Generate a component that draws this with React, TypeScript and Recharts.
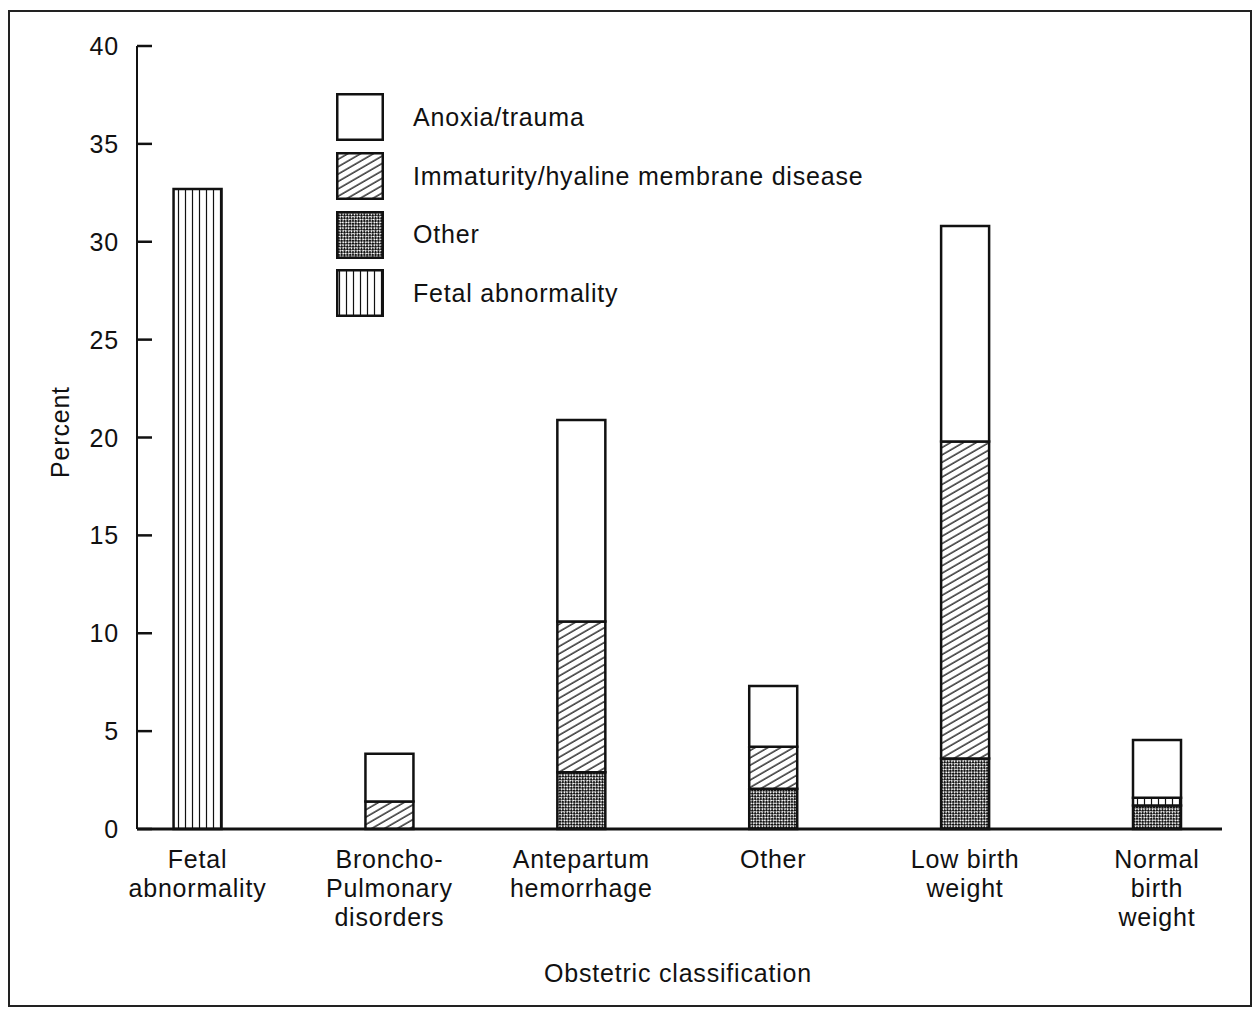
import React from 'react';
import { BarChart, Bar, XAxis, YAxis, Legend, Customized } from 'recharts';

const categories: string[][] = [
  ['Fetal', 'abnormality'],
  ['Broncho-', 'Pulmonary', 'disorders'],
  ['Antepartum', 'hemorrhage'],
  ['Other'],
  ['Low birth', 'weight'],
  ['Normal', 'birth', 'weight'],
];
const otherValues = [0, 0, 2.9, 2.05, 3.6, 1.2];
const fetalValues = [32.7, 0, 0, 0, 0, 0.4];
const immaturityValues = [0, 1.4, 7.7, 2.15, 16.2, 0];
const anoxiaValues = [0, 2.45, 10.3, 3.1, 11.0, 2.95];
const yTicks = [0, 5, 10, 15, 20, 25, 30, 35, 40];

const legendNames = [
  'Anoxia/trauma',
  'Immaturity/hyaline membrane disease',
  'Other',
  'Fetal abnormality',
];
const legendFills = ['#ffffff', 'url(#hatch)', 'url(#checker)', 'url(#vstripe)'];

const data = categories.map((c, i) => ({
  idx: i,
  other: otherValues[i],
  fetal: fetalValues[i],
  immaturity: immaturityValues[i],
  anoxia: anoxiaValues[i],
}));

const FONT = '"Liberation Sans", Arial, Helvetica, sans-serif';
const txt = { fontFamily: FONT, fontSize: 25, letterSpacing: 0.8, fill: '#111' };

const YTick = (props: any) => {
  const { x, y, payload } = props;
  return (
    <g>
      <line x1={x} x2={x + 15} y1={y} y2={y} stroke="#111" strokeWidth={2.5} />
      <text x={x - 18} y={y + 9} textAnchor="end" {...txt}>
        {payload.value}
      </text>
    </g>
  );
};

const XTick = (props: any) => {
  const { x, y, payload } = props;
  const lines = categories[payload.value] || [];
  return (
    <g>
      {lines.map((l, k) => (
        <text key={k} x={x} y={y + 39 + k * 29} textAnchor="middle" {...txt}>
          {l}
        </text>
      ))}
    </g>
  );
};

const Defs = () => (
  <defs>
    <pattern id="hatch" width="6.4" height="6.4" patternUnits="userSpaceOnUse" patternTransform="rotate(60)">
      <rect width="6.4" height="6.4" fill="#fff" />
      <line x1="1" y1="0" x2="1" y2="6.4" stroke="#111" strokeWidth="1.3" />
    </pattern>
    <pattern id="checker" width="4" height="4" patternUnits="userSpaceOnUse" patternTransform="rotate(45)">
      <rect width="4" height="4" fill="#fff" />
      <rect x="0" y="0" width="2.4" height="2.4" fill="#111" />
      <rect x="2" y="2" width="2.4" height="2.4" fill="#111" />
    </pattern>
    <pattern id="vstripe" width="7" height="7" patternUnits="userSpaceOnUse">
      <rect width="7" height="7" fill="#fff" />
      <line x1="3.5" y1="0" x2="3.5" y2="7" stroke="#111" strokeWidth="1.2" />
    </pattern>
  </defs>
);

const Frame = () => (
  <g>
    <rect x={9} y={11} width={1242} height={995} fill="none" stroke="#222" strokeWidth={2} />
    <text x={60} y={432} transform="rotate(-90 60 432)" textAnchor="middle" dominantBaseline="central" {...txt}>
      Percent
    </text>
    <text x={678} y={982} textAnchor="middle" {...txt}>
      Obstetric classification
    </text>
  </g>
);

const LegendContent = () => (
  <div style={{ fontFamily: FONT }}>
    {legendNames.map((n, i) => (
      <div key={n} style={{ display: 'flex', alignItems: 'center', height: 58.7 }}>
        <svg width={48} height={48} style={{ display: 'block' }}>
          <rect x={1.25} y={1.25} width={45.5} height={45.5} fill={legendFills[i]} stroke="#111" strokeWidth={2.5} />
        </svg>
        <span style={{ marginLeft: 29, fontSize: 25, letterSpacing: 0.8, color: '#111', whiteSpace: 'nowrap' }}>{n}</span>
      </div>
    ))}
  </div>
);

export default function App() {
  return (
    <div style={{ position: 'absolute', left: 0, top: 0, background: '#fff' }}>
      <BarChart
        width={1254}
        height={1012}
        data={data}
        margin={{ top: 46, right: 32, bottom: 83, left: 77 }}
        barSize={48}
      >
        <Customized component={Defs} />
        <XAxis
          dataKey="idx"
          type="number"
          domain={[-0.3153, 5.339]}
          allowDataOverflow
          ticks={[0, 1, 2, 3, 4, 5]}
          interval={0}
          height={100}
          tickSize={0}
          tickMargin={0}
          tickLine={false}
          axisLine={{ stroke: '#111', strokeWidth: 3 }}
          tick={<XTick />}
        />
        <YAxis
          domain={[0, 40]}
          ticks={yTicks}
          interval={0}
          width={60}
          tickSize={0}
          tickMargin={0}
          tickLine={false}
          axisLine={{ stroke: '#111', strokeWidth: 2 }}
          tick={<YTick />}
        />
        <Legend
          layout="vertical"
          align="center"
          verticalAlign="middle"
          wrapperStyle={{ top: 88, left: 336, width: 650, bottom: 'auto', right: 'auto' }}
          content={<LegendContent />}
        />
        <Bar dataKey="other" stackId="s" fill="url(#checker)" stroke="#111" strokeWidth={2.5} isAnimationActive={false} />
        <Bar dataKey="fetal" stackId="s" fill="url(#vstripe)" stroke="#111" strokeWidth={2.5} isAnimationActive={false} />
        <Bar dataKey="immaturity" stackId="s" fill="url(#hatch)" stroke="#111" strokeWidth={2.5} isAnimationActive={false} />
        <Bar dataKey="anoxia" stackId="s" fill="#ffffff" stroke="#111" strokeWidth={2.5} isAnimationActive={false} />
        <Customized component={Frame} />
      </BarChart>
    </div>
  );
}
